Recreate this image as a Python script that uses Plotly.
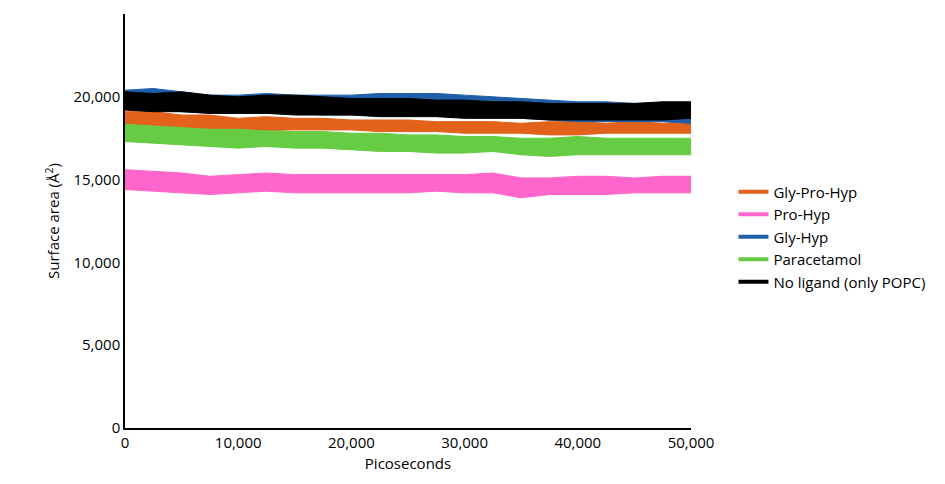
import plotly.graph_objects as go

picoseconds = [0, 2500, 5000, 7500, 10000, 12500, 15000, 17500, 20000, 22500, 25000,
               27500, 30000, 32500, 35000, 37500, 40000, 42500, 45000, 47500, 50000]

no_ligand_hi = [20300,20200,20300,20100,20000,20100,20100,20000,19900,19900,19900,19800,19800,19700,19700,19600,19600,19600,19600,19700,19700]
no_ligand_lo = [19200,19100,19100,19000,19000,19000,18900,18900,18900,18800,18800,18800,18700,18700,18700,18600,18600,18600,18600,18600,18700]
gly_hyp_hi = [20400,20500,20300,20100,20100,20200,20100,20100,20100,20200,20200,20200,20100,20000,19900,19800,19700,19700,19600,19600,19600]
gly_hyp_lo = [19300,19200,19100,19000,19000,19000,19000,18900,18900,19000,18900,18900,18800,18800,18700,18600,18500,18500,18500,18500,18400]
gly_pro_hyp_hi = [19100,19100,18900,18900,18700,18800,18700,18700,18600,18600,18600,18500,18500,18500,18400,18500,18500,18400,18500,18400,18500]
gly_pro_hyp_lo = [18400,18300,18200,18100,18100,18000,18000,18000,18000,17900,17900,17900,17800,17800,17800,17700,17700,17800,17800,17800,17800]
paracetamol_hi = [18400,18400,18200,18100,18100,18000,17900,17900,17800,17800,17700,17700,17600,17600,17500,17500,17600,17500,17500,17500,17500]
paracetamol_lo = [17300,17200,17100,17000,16900,17000,16900,16900,16800,16700,16700,16600,16600,16700,16500,16400,16500,16500,16500,16500,16500]
pro_hyp_hi = [15600,15500,15400,15200,15300,15400,15300,15300,15300,15300,15300,15300,15300,15400,15100,15100,15200,15200,15100,15200,15200]
pro_hyp_lo = [14400,14300,14200,14100,14200,14300,14200,14200,14200,14200,14200,14300,14200,14200,13900,14100,14100,14100,14200,14200,14200]

series = [
    ("Pro-Hyp", pro_hyp_lo, pro_hyp_hi, "#FF66CC", 2),
    ("Paracetamol", paracetamol_lo, paracetamol_hi, "#66CC44", 4),
    ("Gly-Pro-Hyp", gly_pro_hyp_lo, gly_pro_hyp_hi, "#E2611B", 1),
    ("Gly-Hyp", gly_hyp_lo, gly_hyp_hi, "#1F5FA8", 3),
    ("No ligand (only POPC)", no_ligand_lo, no_ligand_hi, "#000000", 5),
]

fig = go.Figure()
for name, lo, hi, color, rank in series:
    fig.add_trace(go.Scatter(x=picoseconds, y=hi, mode="lines", line=dict(color=color, width=1),
                             showlegend=False, hoverinfo="skip"))
    fig.add_trace(go.Scatter(x=picoseconds, y=lo, mode="lines", line=dict(color=color, width=1),
                             fill="tonexty", fillcolor=color, showlegend=False, hoverinfo="skip"))
    fig.add_trace(go.Scatter(x=[None], y=[None], mode="lines", name=name,
                             line=dict(color=color, width=4), legendrank=rank))

font = dict(family="Open Sans", size=15, color="#000")
fig.update_layout(
    width=945, height=484, margin=dict(l=117, r=262, t=6, b=64),
    plot_bgcolor="white", paper_bgcolor="white", font=font,
    legend=dict(x=1.075, y=0.61, xanchor="left", yanchor="top", traceorder="normal",
                font=dict(family="Open Sans", size=15, color="#000"), tracegroupgap=0, itemwidth=30),
    xaxis=dict(range=[0, 50000], tickvals=[0, 10000, 20000, 30000, 40000, 50000], tickformat=",",
               showgrid=False, zeroline=False, showline=True, linecolor="black", linewidth=1.5,
               title=dict(text="Picoseconds", font=font, standoff=8), ticks=""),
    yaxis=dict(range=[0, 25000], tickvals=[0, 5000, 10000, 15000, 20000, 25000], tickformat=",",
               showgrid=False, zeroline=False, showline=True, linecolor="black", linewidth=1.5,
               title=dict(text="Surface area (Å<sup>2</sup>)", font=font, standoff=10), ticks=""),
)
fig.write_html("out.html")
